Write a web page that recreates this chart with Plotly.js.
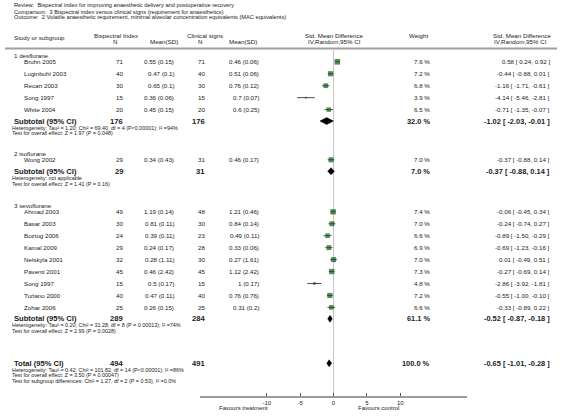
<!DOCTYPE html>
<html><head><meta charset="utf-8">
<script src="https://cdn.plot.ly/plotly-3.0.1.min.js"></script>
<style>body{margin:0;background:#fff}#plot{width:566px;height:420px}</style>
</head><body><div id="plot"></div>
<script>
// ---------- DATA ----------
const headerLines = [
  "Review:  Bispectral index for improving anaesthetic delivery and postoperative recovery",
  "Comparison:  3 Bispectral index versus clinical signs (requirement for anaesthetics)",
  "Outcome:  2 Volatile anaesthetic requirement, minimal alveolar concentration equivalents (MAC equivalents)"
];
const groupNames = ["1 desflurane", "2 isoflurane", "3 sevoflurane"];
const studyGroup = [0,0,0,0,0, 1, 2,2,2,2,2,2,2,2,2];
const studyNames = ["Bruhn 2005","Luginbuhl 2003","Recart 2003","Song 1997","White 2004",
  "Wong 2002",
  "Ahmad 2003","Basar 2003","Boztug 2006","Kamal 2009","Nelskyla 2001","Paventi 2001","Song 1997","Turlano 2000","Zohar 2006"];
const bisN    = [71,40,30,15,20, 29, 49,30,24,29,32,45,15,40,25];
const bisMean = [0.55,0.47,0.65,0.36,0.45, 0.34, 1.19,0.81,0.39,0.24,0.28,0.46,0.5,0.47,0.26];
const bisSD   = [0.15,0.1,0.1,0.06,0.15, 0.43, 0.14,0.11,0.11,0.17,1.11,2.42,0.17,0.11,0.15];
const clinN   = [71,40,30,15,20, 31, 48,30,23,28,30,45,15,40,25];
const clinMean= [0.46,0.51,0.76,0.7,0.6, 0.46, 1.21,0.84,0.49,0.33,0.27,1.12,1,0.76,0.31];
const clinSD  = [0.06,0.06,0.12,0.07,0.25, 0.17, 0.46,0.14,0.11,0.06,1.61,2.42,0.17,0.76,0.2];
const weight  = [7.6,7.2,6.8,3.9,6.5, 7.0, 7.4,7.0,6.6,6.9,7.0,7.3,4.8,7.2,6.6];
const smd     = [0.58,-0.44,-1.16,-4.14,-0.71, -0.37, -0.06,-0.24,-0.89,-0.69,0.01,-0.27,-2.86,-0.55,-0.33];
const ciLow   = [0.24,-0.88,-1.71,-5.46,-1.35, -0.88, -0.45,-0.74,-1.50,-1.23,-0.49,-0.69,-3.92,-1.00,-0.89];
const ciHigh  = [0.92,0.01,-0.61,-2.81,-0.07, 0.14, 0.34,0.27,-0.29,-0.16,0.51,0.14,-1.81,-0.10,0.22];

const subN1 = [176, 29, 289];
const subN2 = [176, 31, 284];
const subWeight = [32.0, 7.0, 61.1];
const subSmd  = [-1.02, -0.37, -0.52];
const subLow  = [-2.03, -0.88, -0.87];
const subHigh = [-0.01, 0.14, -0.18];
const subHet = [
  "Heterogeneity: Tau² = 1.20; Chi² = 69.40, df = 4 (P<0.00001); I² =94%",
  "Heterogeneity: not applicable",
  "Heterogeneity: Tau² = 0.20; Chi² = 31.28, df = 8 (P = 0.00013); I² =74%"
];
const subTest = [
  "Test for overall effect: Z = 1.97 (P = 0.048)",
  "Test for overall effect: Z = 1.41 (P = 0.16)",
  "Test for overall effect: Z = 2.99 (P = 0.0028)"
];
const totalN1 = 494, totalN2 = 491, totalWeight = 100.0;
const totalSmd = -0.65, totalLow = -1.01, totalHigh = -0.28;
const totalNotes = [
  "Heterogeneity: Tau² = 0.42; Chi² = 101.82, df = 14 (P<0.00001); I² =86%",
  "Test for overall effect: Z = 3.50 (P = 0.00047)",
  "Test for subgroup differences: Chi² = 1.27, df = 2 (P = 0.53), I² =0.0%"
];
const tickVals = [-10, -5, 0, 5, 10];
const favourLeft = "Favours treatment", favourRight = "Favours control";

// ---------- LAYOUT HELPERS ----------
const W = 566, H = 420, AXIS_Y = 396;
const FONT = "Liberation Sans, Arial, sans-serif";
const ROW = 11.95;
const groupStart = [55.5, 153.5, 205.5];
const annotations = [];
function txt(t, xPx, yPx, anchor, size, bold, color) {
  annotations.push({
    text: bold ? "<b>" + t + "</b>" : t,
    xref: "paper", yref: "paper",
    x: xPx / W, y: (H - yPx) / H,
    xanchor: anchor, yanchor: "middle",
    showarrow: false,
    font: {family: FONT, size: size, color: color || "#1a1a1a"}
  });
}
const fmtCI = (m, l, h) => m.toFixed(2) + " [ " + l.toFixed(2) + ", " + h.toFixed(2) + " ]";

// header
headerLines.forEach((t, i) => txt(t, 12, 5.5 + i * 6, "left", 5.7));
txt("Study or subgroup", 12, 37, "left", 6.2);
txt("Bispectral Index", 92, 35.5, "left", 6.2);
txt("N", 115, 41.5, "center", 6.2);
txt("Mean(SD)", 164, 41.5, "center", 6.2);
txt("Clinical signs", 185, 35.5, "left", 6.2);
txt("N", 200, 41.5, "center", 6.2);
txt("Mean(SD)", 243, 41.5, "center", 6.2);
txt("Std. Mean Difference", 334, 35.5, "center", 6.2);
txt("IV,Random,95% CI", 334, 41.5, "center", 6.2);
txt("Weight", 418, 35.5, "center", 6.2);
txt("Std. Mean Difference", 522, 35.5, "center", 6.2);
txt("IV,Random,95% CI", 520, 41.5, "center", 6.2);

// rows
const studyY = [];
const subY = [];
groupNames.forEach((g, gi) => {
  const y0 = groupStart[gi];
  txt(g, 12, y0, "left", 6.2);
  let y = y0 + 6.3;
  studyNames.forEach((name, i) => {
    if (studyGroup[i] !== gi) return;
    studyY[i] = y;
    txt(name, 22, y, "left", 6.2);
    txt(String(bisN[i]), 125, y, "right", 6.2);
    txt(bisMean[i] + " (" + bisSD[i] + ")", 176, y, "right", 6.2);
    txt(String(clinN[i]), 207, y, "right", 6.2);
    txt(clinMean[i] + " (" + clinSD[i] + ")", 261, y, "right", 6.2);
    txt(weight[i].toFixed(1) + " %", 432, y, "right", 6.2);
    txt(fmtCI(smd[i], ciLow[i], ciHigh[i]), 552, y, "right", 6.2);
    y += ROW;
  });
  const ys = y - 0.5;
  subY[gi] = ys;
  txt("Subtotal (95% CI)", 12, ys, "left", 7.6, true);
  txt(String(subN1[gi]), 125, ys, "right", 7.6, true);
  txt(String(subN2[gi]), 207, ys, "right", 7.6, true);
  txt(subWeight[gi].toFixed(1) + " %", 432, ys, "right", 7.4, true);
  txt(fmtCI(subSmd[gi], subLow[gi], subHigh[gi]), 552, ys, "right", 7.4, true);
  txt(subHet[gi], 10, ys + 6.5, "left", 5.4);
  txt(subTest[gi], 10, ys + 12.3, "left", 5.4);
});
const totY = 363.3;
txt("Total (95% CI)", 12, totY, "left", 7.6, true);
txt(String(totalN1), 125, totY, "right", 7.6, true);
txt(String(totalN2), 207, totY, "right", 7.6, true);
txt(totalWeight.toFixed(1) + " %", 432, totY, "right", 7.4, true);
txt(fmtCI(totalSmd, totalLow, totalHigh), 552, totY, "right", 7.4, true);
totalNotes.forEach((t, i) => txt(t, 10, totY + 6.3 + i * 5.7, "left", 5.4));
txt(favourLeft, 243, 407.5, "center", 6.0);
txt(favourRight, 378, 407.5, "center", 6.0);

// ---------- TRACES ----------
const traces = [];
traces.push({
  type: "scatter", mode: "markers", x: smd, y: studyY,
  error_x: {type: "data", symmetric: false,
    array: smd.map((m, i) => ciHigh[i] - m),
    arrayminus: smd.map((m, i) => m - ciLow[i]),
    color: "#222", thickness: 0.8, width: 0},
  marker: {symbol: "square", color: "#0d5c14",
    size: weight.map(w => Math.max(1.6, 1.4 + (w - 3.6) * 1.05)),
    line: {width: 0}},
  hoverinfo: "skip", showlegend: false, cliponaxis: false
});
function diamond(m, l, h, y, halfH) {
  traces.push({
    type: "scatter", mode: "lines", fill: "toself",
    x: [l, m, h, m, l], y: [y, y - halfH, y, y + halfH, y],
    line: {width: 0.5, color: "#000"}, fillcolor: "#000",
    hoverinfo: "skip", showlegend: false
  });
}
subSmd.forEach((m, i) => diamond(m, subLow[i], subHigh[i], subY[i], 3.5));
diamond(totalSmd, totalLow, totalHigh, totY, 3.5);

const layout = {
  width: W, height: H,
  margin: {l: 0, r: 0, t: 0, b: 0},
  paper_bgcolor: "#fff", plot_bgcolor: "rgba(0,0,0,0)",
  showlegend: false,
  xaxis: {
    domain: [200 / W, 467 / W], range: [-20, 20],
    showgrid: false, zeroline: false,
    showline: true, linecolor: "#9a9a9a", linewidth: 2,
    ticks: "inside", ticklen: 3, tickwidth: 1, tickcolor: "#555",
    tickvals: tickVals, ticktext: tickVals.map(String),
    tickfont: {family: FONT, size: 6, color: "#1a1a1a"},
    fixedrange: true
  },
  yaxis: {
    domain: [(H - AXIS_Y) / H, 1], range: [AXIS_Y, 0],
    visible: false, showgrid: false, zeroline: false, fixedrange: true
  },
  shapes: [
    {type: "line", xref: "paper", yref: "y", x0: 5 / W, x1: 557 / W, y0: 48.5, y1: 48.5,
     line: {color: "#a0a0a0", width: 2}},
    {type: "line", xref: "x", yref: "y", x0: 0, x1: 0, y0: 50, y1: AXIS_Y,
     line: {color: "#c4c4c4", width: 1}, layer: "below"}
  ],
  annotations: annotations
};
Plotly.newPlot("plot", traces, layout, {staticPlot: true, displayModeBar: false});
</script>
</body></html>
